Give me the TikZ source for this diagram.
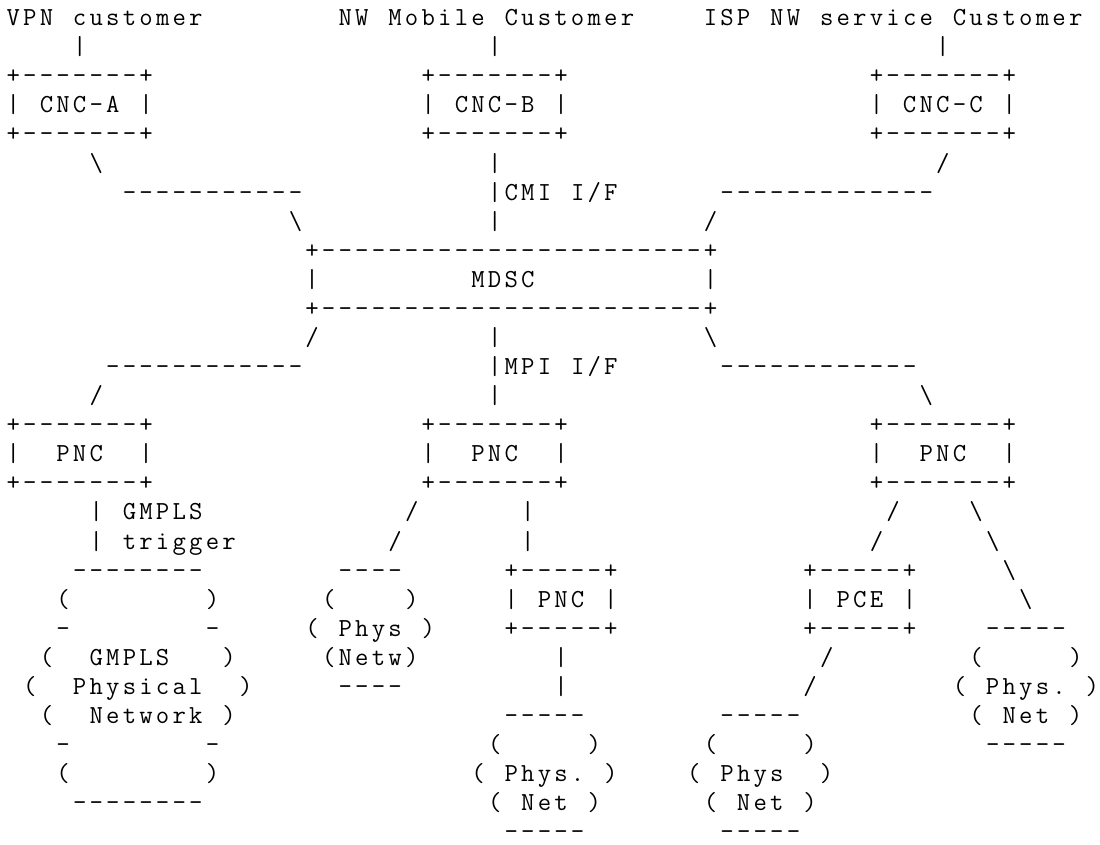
\documentclass[tikz,border=0pt]{standalone}
\makeatletter
\newcommand\monostr[1]{\mono@a#1\relax}
\newcommand\mono@a[1]{\ifx#1\relax\else\hbox to 16.6pt{\hss#1\hss}\expandafter\mono@a\fi}
\makeatother
\newcommand\bs{\textbackslash}
\tikzset{asc/.style={anchor=base west, inner sep=0pt, outer sep=0pt, text=black,
  font=\ttfamily\fontsize{26}{29}\selectfont}}
\newcommand\seg[4]{\node[asc] (#1) at ({5+16.6*(#2)},{25.6+29.08*((#3)-1)}) {\monostr{#4}};}
\begin{document}
\begin{tikzpicture}[x=1pt,y=-1pt]
\fill[white] (0,0) rectangle (1100,844);
\useasboundingbox (0,0) rectangle (1100,844);
% row 1
\seg{custA}{0}{1}{VPN~customer}
\seg{custB}{20}{1}{NW~Mobile~Customer}
\seg{custC}{42}{1}{ISP~NW~service~Customer}
% row 2
\seg{r2a}{4}{2}{|}
\seg{r2b}{29}{2}{|}
\seg{r2c}{56}{2}{|}
% rows 3-5 CNC boxes
\seg{cncAt}{0}{3}{+-------+}
\seg{cncBt}{25}{3}{+-------+}
\seg{cncCt}{52}{3}{+-------+}
\seg{cncA}{0}{4}{|~CNC-A~|}
\seg{cncB}{25}{4}{|~CNC-B~|}
\seg{cncC}{52}{4}{|~CNC-C~|}
\seg{cncAb}{0}{5}{+-------+}
\seg{cncBb}{25}{5}{+-------+}
\seg{cncCb}{52}{5}{+-------+}
% row 6
\seg{r6a}{5}{6}{\bs}
\seg{r6b}{29}{6}{|}
\seg{r6c}{56}{6}{/}
% row 7
\seg{r7a}{7}{7}{-----------}
\seg{cmi}{29}{7}{|CMI~I/F}
\seg{r7c}{43}{7}{-------------}
% row 8
\seg{r8a}{17}{8}{\bs}
\seg{r8b}{29}{8}{|}
\seg{r8c}{42}{8}{/}
% rows 9-11 MDSC
\seg{mdsct}{18}{9}{+-----------------------+}
\seg{mdscl}{18}{10}{|}
\seg{mdsc}{28}{10}{MDSC}
\seg{mdscr}{42}{10}{|}
\seg{mdscb}{18}{11}{+-----------------------+}
% row 12
\seg{r12a}{18}{12}{/}
\seg{r12b}{29}{12}{|}
\seg{r12c}{42}{12}{\bs}
% row 13
\seg{r13a}{6}{13}{------------}
\seg{mpi}{29}{13}{|MPI~I/F}
\seg{r13c}{43}{13}{------------}
% row 14
\seg{r14a}{5}{14}{/}
\seg{r14b}{29}{14}{|}
\seg{r14c}{55}{14}{\bs}
% rows 15-17 PNC boxes
\seg{pncAt}{0}{15}{+-------+}
\seg{pncBt}{25}{15}{+-------+}
\seg{pncCt}{52}{15}{+-------+}
\seg{pncA}{0}{16}{|~~PNC~~|}
\seg{pncB}{25}{16}{|~~PNC~~|}
\seg{pncC}{52}{16}{|~~PNC~~|}
\seg{pncAb}{0}{17}{+-------+}
\seg{pncBb}{25}{17}{+-------+}
\seg{pncCb}{52}{17}{+-------+}
% row 18
\seg{gmpls}{5}{18}{|~GMPLS}
\seg{r18b}{24}{18}{/}
\seg{r18c}{31}{18}{|}
\seg{r18d}{53}{18}{/}
\seg{r18e}{58}{18}{\bs}
% row 19
\seg{trig}{5}{19}{|~trigger}
\seg{r19b}{23}{19}{/}
\seg{r19c}{31}{19}{|}
\seg{r19d}{52}{19}{/}
\seg{r19e}{59}{19}{\bs}
% row 20
\seg{r20a}{4}{20}{--------}
\seg{r20b}{20}{20}{----}
\seg{pncDt}{30}{20}{+-----+}
\seg{pceT}{48}{20}{+-----+}
\seg{r20e}{60}{20}{\bs}
% row 21
\seg{r21a}{3}{21}{(~~~~~~~~)}
\seg{r21b}{19}{21}{(~~~~)}
\seg{pncD}{30}{21}{|~PNC~|}
\seg{pce}{48}{21}{|~PCE~|}
\seg{r21e}{61}{21}{\bs}
% row 22
\seg{r22a}{3}{22}{-~~~~~~~~-}
\seg{r22b}{18}{22}{(~Phys~)}
\seg{pncDb}{30}{22}{+-----+}
\seg{pceB}{48}{22}{+-----+}
\seg{r22e}{59}{22}{-----}
% row 23
\seg{r23a}{2}{23}{(~~GMPLS~~~)}
\seg{r23b}{19}{23}{(Netw)}
\seg{r23c}{33}{23}{|}
\seg{r23d}{49}{23}{/}
\seg{r23e}{58}{23}{(~~~~~)}
% row 24
\seg{r24a}{1}{24}{(~~Physical~~)}
\seg{r24b}{20}{24}{----}
\seg{r24c}{33}{24}{|}
\seg{r24d}{48}{24}{/}
\seg{r24e}{57}{24}{(~Phys.~)}
% row 25
\seg{r25a}{2}{25}{(~~Network~)}
\seg{r25c}{30}{25}{-----}
\seg{r25d}{43}{25}{-----}
\seg{r25e}{58}{25}{(~Net~)}
% row 26
\seg{r26a}{3}{26}{-~~~~~~~~-}
\seg{r26c}{29}{26}{(~~~~~)}
\seg{r26d}{42}{26}{(~~~~~)}
\seg{r26e}{59}{26}{-----}
% row 27
\seg{r27a}{3}{27}{(~~~~~~~~)}
\seg{r27c}{28}{27}{(~Phys.~)}
\seg{r27d}{41}{27}{(~Phys~~)}
% row 28
\seg{r28a}{4}{28}{--------}
\seg{r28c}{29}{28}{(~Net~)}
\seg{r28d}{42}{28}{(~Net~)}
% row 29
\seg{r29c}{30}{29}{-----}
\seg{r29d}{43}{29}{-----}
\end{tikzpicture}
\end{document}
